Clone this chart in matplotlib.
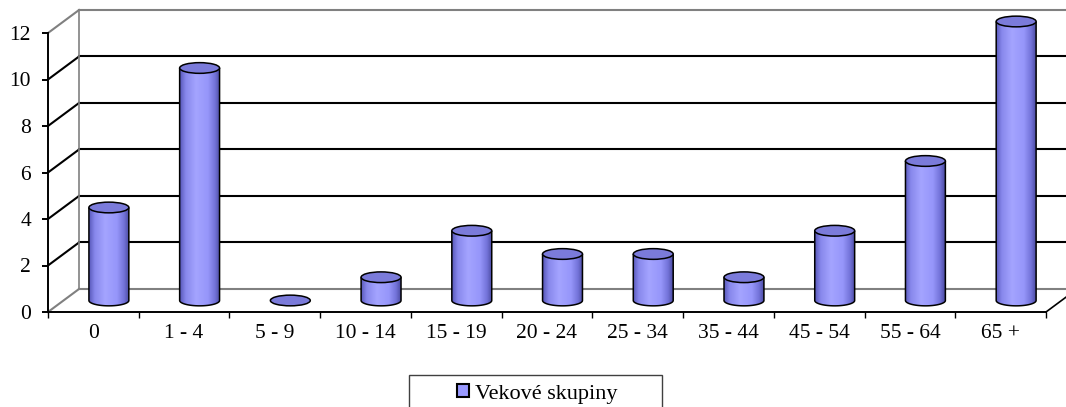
import matplotlib
matplotlib.use("Agg")
import matplotlib.pyplot as plt
import numpy as np
from matplotlib.patches import Ellipse, PathPatch, Rectangle, Patch
from matplotlib.path import Path
from matplotlib.colors import LinearSegmentedColormap

categories = ["0", "1 - 4", "5 - 9", "10 - 14", "15 - 19", "20 - 24",
              "25 - 34", "35 - 44", "45 - 54", "55 - 64", "65 +"]
values = [4, 10, 0, 1, 3, 2, 2, 1, 3, 6, 12]
series_name = "Vekové skupiny"
yticks = [0, 2, 4, 6, 8, 10, 12]

plt.rcParams['font.family'] = ['Liberation Serif', 'DejaVu Serif']
plt.rcParams['font.size'] = 15.5

W, H = 1066, 407
fig = plt.figure(figsize=(W / 100, H / 100), dpi=100)
ax = fig.add_axes([48 / W, 95 / H, 998 / W, 279 / H])
ax.patch.set_visible(False)

n = len(categories)
x0, x1 = -0.5, n - 0.5
ymax = yticks[-1]
# fake 3d depth, in data units
DX, DY = 0.342, 0.99
cw, ch = 0.44, 0.46   # cylinder width / ellipse height

grey = '#808080'

# back wall gridlines
for v in yticks:
    col = 'black' if 0 < v < ymax else grey
    ax.plot([x0 + DX, x1 + DX], [v + DY, v + DY], color=col, lw=1.5,
            clip_on=False, zorder=1)
    # side wall diagonals
    ax.plot([x0, x0 + DX], [v, v + DY], color=col, lw=1.5,
            clip_on=False, zorder=1)
ax.plot([x0 + DX, x0 + DX], [DY, ymax + DY], color=grey, lw=1.2,
        clip_on=False, zorder=1)
# right floor edge
ax.plot([x1, x1 + DX], [0, DY], color='black', lw=1.2, clip_on=False, zorder=1)

cmap = LinearSegmentedColormap.from_list(
    'cyl', [(0, '#5a5abc'), (0.14, '#8888ec'), (0.4, '#a4a4ff'),
            (0.7, '#9696fa'), (0.88, '#7474da'), (1, '#4e4ea6')])
grad = np.linspace(0, 1, 64).reshape(1, -1)

t = np.linspace(np.pi, 2 * np.pi, 40)
for i, v in enumerate(values):
    cx = i + DX / 2
    cy = DY / 2
    if v > 0:
        bx = cx + cw / 2 * np.cos(t)
        by = cy + ch / 2 * np.sin(t)
        verts = [(cx - cw / 2, cy + v)] + list(zip(bx, by)) + [(cx + cw / 2, cy + v)]
        body = PathPatch(Path(verts), facecolor='none', edgecolor='black',
                         lw=1.1, clip_on=False, zorder=3.1)
        ax.add_patch(body)
        im = ax.imshow(grad, cmap=cmap, aspect='auto', interpolation='bilinear',
                       extent=(cx - cw / 2, cx + cw / 2, cy - ch / 2, cy + v),
                       zorder=3)
        im.set_clip_path(body)
        im.set_clip_box(fig.bbox)
    top = Ellipse((cx, cy + v), cw, ch, facecolor='#7b7bda', edgecolor='black',
                  lw=1.1, clip_on=False, zorder=3.2)
    ax.add_patch(top)

ax.set_xlim(x0, x1)
ax.set_ylim(0, ymax)

for s in ['top', 'right']:
    ax.spines[s].set_visible(False)
for s in ['left', 'bottom']:
    ax.spines[s].set_linewidth(1.4)
    ax.spines[s].set_zorder(5)

ax.set_yticks(yticks)
ax.tick_params(axis='y', length=4.3, width=1.4, pad=8, labelsize=15.5)
ax.set_xticks(range(n))
ax.set_xticklabels(categories)
ax.set_xticks(np.arange(x0, x1 + 0.01, 1), minor=True)
ax.tick_params(axis='x', which='major', length=0, pad=9, labelsize=15.5)
ax.tick_params(axis='x', which='minor', length=4.3, width=1.0)

# legend
fig.add_artist(Rectangle((409 / W, (H - 425) / H), 253 / W, 50 / H,
                         transform=fig.transFigure, fill=False,
                         edgecolor='#404040', lw=1.0))
fig.legend(handles=[Patch(facecolor='#9999ff', edgecolor='black', lw=1.5,
                          label=series_name)],
           loc='upper left', bbox_to_anchor=(457 / W, 1 - 384 / H),
           frameon=False, handlelength=0.55, handleheight=0.55,
           handletextpad=0.25, borderpad=0, borderaxespad=0, fontsize=16)

fig.savefig('out.png', dpi=100)
